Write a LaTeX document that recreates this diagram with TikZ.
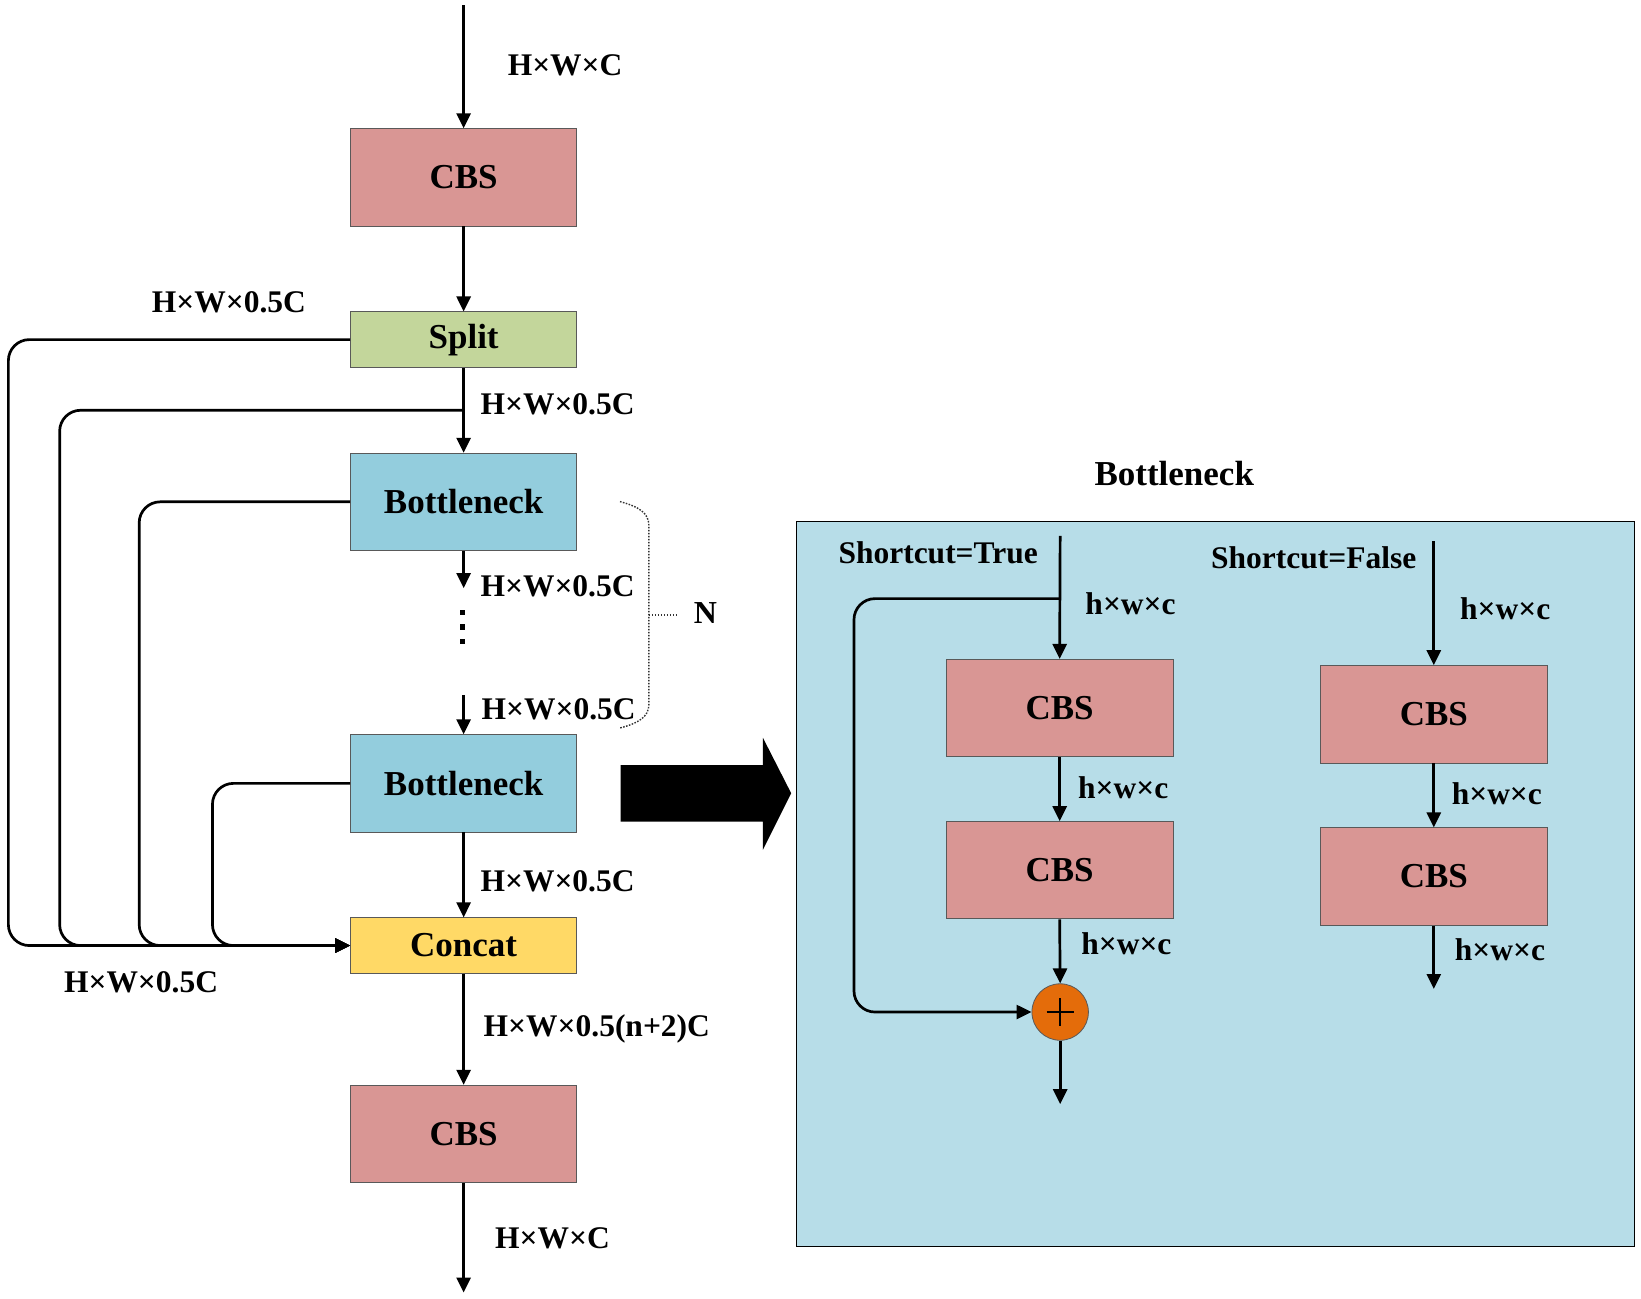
\documentclass[tikz,border=0pt]{standalone}
\usepackage{fontspec}
\setmainfont{Liberation Serif}
\usetikzlibrary{arrows.meta,calc}
\definecolor{cbsred}{HTML}{D99694}
\definecolor{splitgreen}{HTML}{C3D69B}
\definecolor{bnblue}{HTML}{93CDDD}
\definecolor{concatyellow}{HTML}{FFD966}
\definecolor{panelblue}{HTML}{B7DDE8}
\definecolor{addorange}{HTML}{E46C0A}
\definecolor{boxline}{HTML}{595959}
\begin{document}
\begin{tikzpicture}[x=1.0466pt,y=-1.0466pt,
  blk/.style={draw=boxline, line width=0.8pt, minimum width=226pt, minimum height=97.3pt, inner sep=0pt, font=\fontsize{35}{40}\selectfont\bfseries},
  flatblk/.style={blk, minimum height=55.5pt},
  dim/.style={inner sep=0pt, anchor=west, font=\fontsize{31.5}{36}\selectfont\bfseries},
  conn/.style={line width=2.7pt, -{Triangle[length=15pt,width=14pt]}},
  plainconn/.style={line width=2.7pt},
  bracestyle/.style={dash pattern=on 1.6pt off 1.4pt, line width=1.4pt, draw=black!80},
]
\useasboundingbox (0,0) rectangle (1568,1241.2);

% ---------- left column ----------
\node[blk, fill=cbsred] (cbs1) at (443,169.5) {CBS};
\node[flatblk, fill=splitgreen] (split) at (443,324.5) {Split};
\node[blk, fill=bnblue] (bn1) at (443,479.5) {Bottleneck};
\node[blk, fill=bnblue] (bn2) at (443,748.5) {Bottleneck};
\node[flatblk, fill=concatyellow] (concat) at (443,903.5) {Concat};
\node[blk, fill=cbsred] (cbs2) at (443,1083.5) {CBS};

\coordinate (in) at (443,5);
\coordinate (out) at (443,1235);
\coordinate (j1) at (443,392);
\coordinate (bn1end) at (443,562);
\coordinate (bn2start) at (443,664);

\draw[conn] (in) -- (cbs1.north);
\draw[conn] (cbs1.south) -- (split.north);
\draw[conn] (split.south) -- (bn1.north);
\draw[conn] (bn1.south) -- (bn1end);
\draw[conn] (bn2start) -- (bn2.north);
\draw[conn] (bn2.south) -- (concat.north);
\draw[conn] (concat.south) -- (cbs2.north);
\draw[conn] (cbs2.south) -- (out);

% skip connections into Concat
\draw[conn, rounded corners=21pt] (split.west) -| (8,903.5) -- (concat.west);
\draw[conn, rounded corners=21pt] (j1) -| (57,903.5) -- (concat.west);
\draw[conn, rounded corners=21pt] (bn1.west) -| (133,903.5) -- (concat.west);
\draw[conn, rounded corners=21pt] (bn2.west) -| (203,903.5) -- (concat.west);

% vertical dots
\fill (441.6,585.4) +(-2.4,-2.4) rectangle +(2.4,2.4);
\fill (441.6,599.1) +(-2.4,-2.4) rectangle +(2.4,2.4);
\fill (441.6,613.4) +(-2.4,-2.4) rectangle +(2.4,2.4);

% brace with N
\draw[bracestyle] (592.4,479.3) .. controls (610,484) and (620,490) .. (620,502)
  -- (620,673) .. controls (620,685) and (610,691) .. (592.4,695.6);
\draw[bracestyle] (620,587.5) -- (646.5,587.5);
\node[inner sep=0pt, font=\fontsize{32}{36}\selectfont\bfseries] (nlab) at (674,586) {N};

% labels, left column
\node[dim] (d1) at (485,62) {H×W×C};
\node[dim] (d2) at (145,289) {H×W×0.5C};
\node[dim] (d3) at (459,386) {H×W×0.5C};
\node[dim] (d4) at (459,560) {H×W×0.5C};
\node[dim] (d5) at (460,678) {H×W×0.5C};
\node[dim] (d6) at (459,842) {H×W×0.5C};
\node[dim] (d7) at (61,939) {H×W×0.5C};
\node[dim] (d8) at (462,983) {H×W×0.5(n+2)C};
\node[dim] (d9) at (473,1183) {H×W×C};

% big arrow
\fill (593,731) -- (729,731) -- (729,705) -- (756,758) -- (729,812) -- (729,785) -- (593,785) -- cycle;

% ---------- right panel ----------
\node[inner sep=0pt, font=\fontsize{35}{40}\selectfont\bfseries] (title) at (1122,452) {Bottleneck};
\filldraw[fill=panelblue, draw=black, line width=0.9pt] (761,498) rectangle (1562,1191);

\node[blk, fill=cbsred, minimum width=227pt] (cbsA) at (1012.5,676.5) {CBS};
\node[blk, fill=cbsred, minimum width=227pt] (cbsB) at (1012.5,831.5) {CBS};
\node[blk, fill=cbsred, minimum width=227pt] (cbsC) at (1370,682.5) {CBS};
\node[blk, fill=cbsred, minimum width=227pt] (cbsD) at (1370,837.5) {CBS};
\node[circle, draw=boxline, line width=0.8pt, fill=addorange, minimum size=56.5pt, inner sep=0pt] (add) at (1013,967) {};
\draw[line width=1.6pt] ($(add.center)+(-13,0)$) -- ($(add.center)+(13,0)$);
\draw[line width=1.6pt] ($(add.center)+(0,-13)$) -- ($(add.center)+(0,13)$);

\coordinate (tin) at (1013,512);
\coordinate (tj) at (1013,572);
\coordinate (tout) at (1013,1055);
\coordinate (fin) at (1370,517);
\coordinate (fout) at (1370,945);

\draw[conn] (tin) -- (cbsA.north);
\draw[conn] (cbsA.south) -- (cbsB.north);
\draw[conn] (cbsB.south) -- (add.north);
\draw[conn] (add.south) -- (tout);
\draw[conn, rounded corners=21pt] (tj) -| (816,967) -- (add.west);

\draw[conn] (fin) -- (cbsC.north);
\draw[conn] (cbsC.south) -- (cbsD.north);
\draw[conn] (cbsD.south) -- (fout);

\node[dim] (s1) at (801,528) {Shortcut=True};
\node[dim] (s2) at (1157,533) {Shortcut=False};
\node[dim] (h1) at (1037,577) {h×w×c};
\node[dim] (h2) at (1030,753) {h×w×c};
\node[dim] (h3) at (1033,902) {h×w×c};
\node[dim] (h4) at (1395,582) {h×w×c};
\node[dim] (h5) at (1387,758) {h×w×c};
\node[dim] (h6) at (1390,907) {h×w×c};
\end{tikzpicture}
\end{document}
